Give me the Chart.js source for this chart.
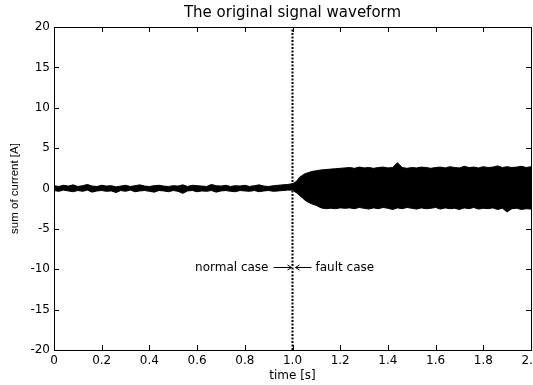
<!doctype html>
<html>
<head>
<title>The original signal waveform</title>
<script src="https://cdn.jsdelivr.net/npm/chart.js@4/dist/chart.umd.min.js"></script>
<style>
body { margin: 0; background: #fff; }
</style>
</head>
<body>
<canvas id="chart" width="533" height="385"></canvas>
<script>
// sample times [s]
var times = [
	0, 0.02, 0.04, 0.06, 0.08, 0.10, 0.12, 0.14, 0.16, 0.18,
	0.20, 0.22, 0.24, 0.26, 0.28, 0.30, 0.32, 0.34, 0.36, 0.38,
	0.40, 0.42, 0.44, 0.46, 0.48, 0.50, 0.52, 0.54, 0.56, 0.58,
	0.60, 0.62, 0.64, 0.66, 0.68, 0.70, 0.72, 0.74, 0.76, 0.78,
	0.80, 0.82, 0.84, 0.86, 0.88, 0.90, 0.92, 0.94, 0.96, 0.98,
	1.00, 1.01, 1.02, 1.03, 1.04, 1.05, 1.06, 1.08, 1.10, 1.12,
	1.14, 1.16, 1.18, 1.20, 1.22, 1.24, 1.26, 1.28, 1.30, 1.32,
	1.34, 1.36, 1.38, 1.40, 1.42, 1.44, 1.46, 1.48, 1.50, 1.52,
	1.54, 1.56, 1.58, 1.60, 1.62, 1.64, 1.66, 1.68, 1.70, 1.72,
	1.74, 1.76, 1.78, 1.80, 1.82, 1.84, 1.86, 1.88, 1.90, 1.92,
	1.94, 1.96, 1.98, 2.00
];

// upper and lower envelope of the current waveform [A]
var upperEnvelope = [
	0.35, 0.25, 0.4, 0.3, 0.45, 0.25, 0.35, 0.5, 0.3, 0.25,
	0.4, 0.3, 0.35, 0.2, 0.3, 0.4, 0.25, 0.35, 0.45, 0.3,
	0.25, 0.35, 0.4, 0.3, 0.25, 0.35, 0.3, 0.45, 0.25, 0.4,
	0.35, 0.3, 0.25, 0.5, 0.35, 0.3, 0.4, 0.25, 0.35, 0.3,
	0.4, 0.25, 0.35, 0.45, 0.3, 0.25, 0.35, 0.4, 0.45, 0.5,
	0.6, 0.75, 1.0, 1.4, 1.6, 1.8, 1.9, 2.1, 2.2, 2.3,
	2.35, 2.4, 2.45, 2.5, 2.55, 2.6, 2.5, 2.65, 2.55, 2.6,
	2.5, 2.6, 2.65, 2.55, 2.6, 3.2, 2.6, 2.5, 2.6, 2.55,
	2.65, 2.6, 2.5, 2.6, 2.65, 2.55, 2.7, 2.6, 2.55, 2.75,
	2.6, 2.65, 2.55, 2.7, 2.6, 2.65, 2.8, 2.6, 2.7, 2.6,
	2.65, 2.75, 2.6, 2.7
];
var lowerEnvelope = [
	-0.25, -0.35, -0.2, -0.3, -0.4, -0.25, -0.35, -0.2, -0.45, -0.3,
	-0.25, -0.35, -0.3, -0.5, -0.25, -0.35, -0.2, -0.4, -0.3, -0.25,
	-0.35, -0.45, -0.25, -0.3, -0.4, -0.25, -0.35, -0.6, -0.3, -0.25,
	-0.4, -0.3, -0.35, -0.25, -0.45, -0.3, -0.25, -0.35, -0.4, -0.25,
	-0.3, -0.35, -0.25, -0.4, -0.3, -0.25, -0.35, -0.3, -0.25, -0.2,
	-0.2, -0.4, -0.6, -0.9, -1.1, -1.4, -1.6, -1.9, -2.1, -2.4,
	-2.5, -2.45, -2.5, -2.4, -2.45, -2.4, -2.5, -2.35, -2.45, -2.55,
	-2.4, -2.5, -2.35, -2.45, -2.6, -2.4, -2.5, -2.35, -2.45, -2.55,
	-2.4, -2.5, -2.45, -2.35, -2.55, -2.4, -2.5, -2.45, -2.6, -2.4,
	-2.5, -2.35, -2.55, -2.45, -2.5, -2.4, -2.6, -2.45, -2.9, -2.5,
	-2.45, -2.6, -2.5, -2.55
];

// fault instant and annotation level
var faultTime = 1;
var yRange = [-20, 20];
var noteLevel = -10;

var xTicks = [0, 0.2, 0.4, 0.6, 0.8, 1, 1.2, 1.4, 1.6, 1.8, 2];
var yTicks = [-20, -15, -10, -5, 0, 5, 10, 15, 20];

function points(ys) {
	return times.map(function(t, i) { return { x: t, y: ys[i] }; });
}

// box with inward ticks on all sides, plus the two case labels
var matlabFrame = {
	id: 'matlabFrame',
	afterDatasetsDraw: function(chart) {
		var ctx = chart.ctx;
		var a = chart.chartArea;
		var x = chart.scales.x, y = chart.scales.y;
		var len = 5;
		ctx.save();
		ctx.strokeStyle = '#000';
		ctx.lineWidth = 1;
		ctx.beginPath();
		xTicks.forEach(function(v) {
			var px = Math.round(x.getPixelForValue(v)) + 0.5;
			ctx.moveTo(px, a.bottom); ctx.lineTo(px, a.bottom - len);
			ctx.moveTo(px, a.top); ctx.lineTo(px, a.top + len);
		});
		yTicks.forEach(function(v) {
			var py = Math.round(y.getPixelForValue(v)) + 0.5;
			ctx.moveTo(a.left, py); ctx.lineTo(a.left + len, py);
			ctx.moveTo(a.right, py); ctx.lineTo(a.right - len, py);
		});
		ctx.stroke();
		ctx.strokeRect(Math.round(a.left) + 0.5, Math.round(a.top) + 0.5,
			Math.round(a.width), Math.round(a.height));

		// case labels with arrows pointing at the fault instant
		var fx = x.getPixelForValue(faultTime);
		var ny = Math.round(y.getPixelForValue(noteLevel)) - 1.5;
		ctx.beginPath();
		ctx.moveTo(fx - 19, ny); ctx.lineTo(fx - 1, ny);
		ctx.moveTo(fx - 5, ny - 2.5); ctx.lineTo(fx - 1, ny); ctx.lineTo(fx - 5, ny + 2.5);
		ctx.moveTo(fx + 19, ny); ctx.lineTo(fx + 3, ny);
		ctx.moveTo(fx + 7, ny - 2.5); ctx.lineTo(fx + 3, ny); ctx.lineTo(fx + 7, ny + 2.5);
		ctx.stroke();
		ctx.fillStyle = '#000';
		ctx.font = '12px "DejaVu Sans"';
		ctx.textBaseline = 'middle';
		ctx.textAlign = 'right';
		ctx.fillText('normal case', fx - 24, ny);
		ctx.textAlign = 'left';
		ctx.fillText('fault case', fx + 23, ny);
		ctx.restore();
	}
};

var tickFont = { family: 'DejaVu Sans', size: 12 };

new Chart(document.getElementById('chart'), {
	type: 'line',
	data: {
		datasets: [{
			label: 'upper',
			data: points(upperEnvelope),
			borderColor: '#000',
			backgroundColor: '#000',
			borderWidth: 1,
			pointRadius: 0,
			fill: '+1'
		}, {
			label: 'lower',
			data: points(lowerEnvelope),
			borderColor: '#000',
			borderWidth: 1,
			pointRadius: 0,
			fill: false
		}, {
			label: 'fault',
			data: [{ x: faultTime, y: yRange[0] }, { x: faultTime, y: yRange[1] }],
			borderColor: '#000',
			borderWidth: 2,
			borderDash: [2, 1.5],
			pointRadius: 0,
			fill: false
		}]
	},
	options: {
		responsive: false,
		animation: false,
		devicePixelRatio: 1,
		layout: { padding: { left: 0, right: 2, top: 0, bottom: 0 } },
		plugins: {
			legend: { display: false },
			tooltip: { enabled: false },
			title: {
				display: true,
				text: 'The original signal waveform',
				color: '#000',
				fullSize: false,
				font: { family: 'DejaVu Sans', size: 15, weight: 'normal' },
				padding: { top: 4, bottom: 5 }
			}
		},
		scales: {
			x: {
				type: 'linear',
				min: 0,
				max: 2,
				afterBuildTicks: function(s) { s.ticks = xTicks.map(function(v) { return { value: v }; }); },
				afterFit: function(s) { s.height = 35; s.paddingLeft = 0; s.paddingRight = 0; },
				grid: { display: false, drawTicks: false },
				border: { display: false },
				ticks: { color: '#000', font: tickFont, padding: 4, maxRotation: 0, autoSkip: false },
				title: {
					display: true,
					text: 'time [s]',
					color: '#000',
					font: { family: 'DejaVu Sans', size: 12 },
					padding: { top: 0, bottom: 2 }
				}
			},
			y: {
				type: 'linear',
				min: yRange[0],
				max: yRange[1],
				afterBuildTicks: function(s) { s.ticks = yTicks.map(function(v) { return { value: v }; }); },
				afterFit: function(s) { s.width = 54; s.paddingTop = 0; s.paddingBottom = 0; },
				grid: { display: false, drawTicks: false },
				border: { display: false },
				ticks: { color: '#000', font: tickFont, padding: 4, autoSkip: false },
				title: {
					display: true,
					text: 'sum of current [A]',
					color: '#000',
					font: { family: 'Liberation Sans', size: 11.5 },
					padding: { top: 8, bottom: 0 }
				}
			}
		}
	},
	plugins: [matlabFrame]
});
</script>
</body>
</html>
